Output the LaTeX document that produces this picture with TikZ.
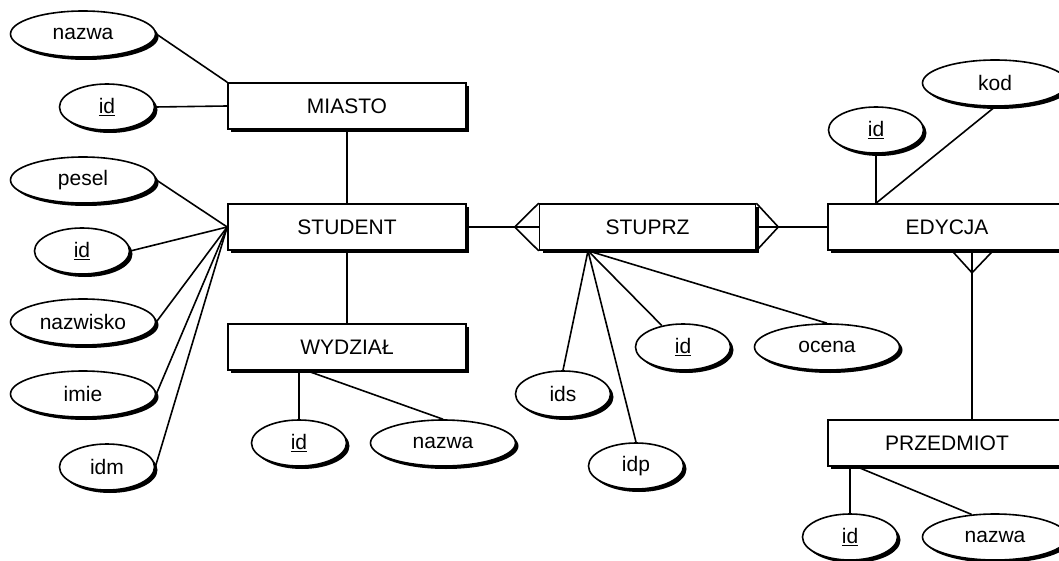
\documentclass[tikz,border=0pt]{standalone}
\usepackage{fontspec}
\setmainfont{Liberation Sans}
\usetikzlibrary{shapes.geometric,shadows,calc}
\tikzset{
  shadowed/.style={drop shadow={shadow xshift=3pt, shadow yshift=-3pt, fill=black, opacity=1}},
  ent/.style={draw, line width=1.6pt, fill=white, minimum width=238pt, minimum height=46pt, inner sep=0pt, font=\fontsize{21}{25}\selectfont, shadowed},
  attr/.style={ellipse, draw, line width=1.6pt, fill=white, minimum width=145pt, minimum height=46pt, inner sep=0pt, font=\fontsize{21}{25}\selectfont, shadowed},
  sattr/.style={attr, minimum width=95pt},
  conn/.style={line width=1.6pt, line join=miter}
}
\begin{document}
\begin{tikzpicture}[x=1pt,y=-1pt]
\useasboundingbox (0,0) rectangle (1059,561);
\fill[white] (0,0) rectangle (1059,561);
\clip (0,0) rectangle (1059,561);
% entities
\node[ent] (M) at (347,106) {MIASTO};
\node[ent] (S) at (347,227) {STUDENT};
\node[ent] (W) at (347,347) {WYDZIAŁ};
\node[ent, minimum width=216pt] (SP) at (647.5,227) {STUPRZ};
\node[ent] (E) at (947,227) {EDYCJA};
\node[ent] (P) at (947,443) {PRZEDMIOT};
% attributes
\node[attr] (a1) at (83,34) {nazwa};
\node[sattr] (a2) at (107,107) {\underline{id}};
\node[attr] (a3) at (83,180) {pesel};
\node[sattr] (a4) at (82,251) {\underline{id}};
\node[attr] (a5) at (83,322) {nazwisko};
\node[attr] (a6) at (83,394) {imie};
\node[sattr] (a7) at (107,467) {idm};
\node[sattr] (w1) at (299,443) {\underline{id}};
\node[attr] (w2) at (443,443) {nazwa};
\node[sattr] (p1) at (563,394) {ids};
\node[sattr] (p2) at (636,466) {idp};
\node[sattr] (p3) at (683,347) {\underline{id}};
\node[attr] (p4) at (827,347) {ocena};
\node[sattr] (e1) at (876,130) {\underline{id}};
\node[attr] (e2) at (995,83) {kod};
\node[sattr] (r1) at (850,537) {\underline{id}};
\node[attr] (r2) at (995,537) {nazwa};
% helper coordinates
\coordinate (cL) at ($(SP.west)+(-24,0)$);
\coordinate (cR) at ($(SP.east)+(22,0)$);
\coordinate (spb) at ($(SP.south)+(-59.5,0)$);
\coordinate (wb) at ($(W.south)+(-40,0)$);
\coordinate (eb) at ($(E.south)+(25,0)$);
\coordinate (ebl) at ($(E.south)+(5,0)$);
\coordinate (ebr) at ($(E.south)+(46,0)$);
\coordinate (ebt) at ($(E.south)+(25,22)$);
\coordinate (pb) at ($(P.south)+(-90,0)$);
% connectors
\draw[conn] (a1.east) -- (M.north west);
\draw[conn] (a2.east) -- (M.west);
\draw[conn] (M) -- (S);
\draw[conn] (S) -- (W);
\foreach \a in {a3,a4,a5,a6,a7} \draw[conn] (\a.east) -- (S.west);
\draw[conn] (S.east) -- (SP.west);
\draw[conn] (SP.north west) -- (cL) -- (SP.south west);
\draw[conn] (SP.east) -- (E.west);
\draw[conn] (SP.north east) -- (cR) -- (SP.south east);
\draw[conn] (w1.north) -- (w1.north |- W.south);
\draw[conn] (wb) -- (w2.north);
\draw[conn] (spb) -- (p1.north);
\draw[conn] (spb) -- (p2.north);
\draw[conn] (spb) -- (p3);
\draw[conn] (spb) -- (p4.north);
\draw[conn] (e1.south) -- (e1.south |- E.north);
\draw[conn] (e2.south) -- (e1.south |- E.north);
\draw[conn] (ebl) -- (ebt) -- (ebr);
\draw[conn] (eb) -- (eb |- P.north);
\draw[conn] (r1.north) -- (r1.north |- P.south);
\draw[conn] (pb) -- (r2.136);
\end{tikzpicture}
\end{document}
